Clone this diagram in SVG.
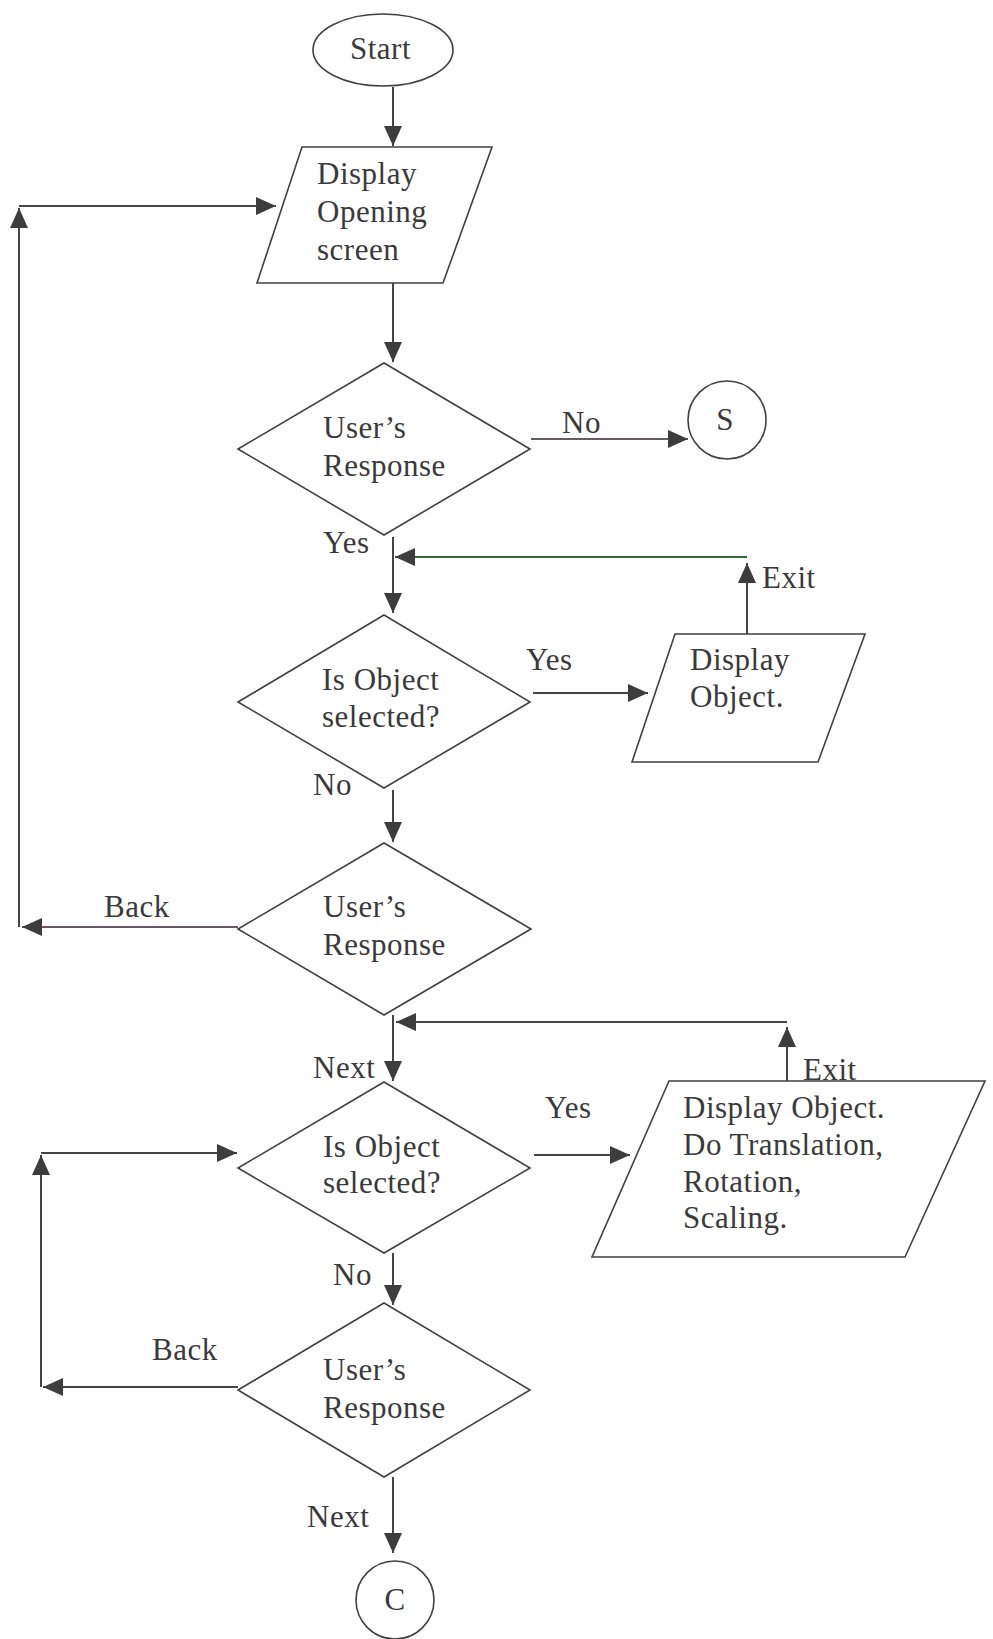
<svg xmlns="http://www.w3.org/2000/svg" width="993" height="1639" viewBox="0 0 993 1639">
<style>
.bg{fill:#ffffff}
.shape{fill:#ffffff;stroke:#404040;stroke-width:1.6}
.ln{fill:none;stroke:#454545;stroke-width:2}
.grn{stroke:#2f6b35}
.mv{stroke:#6a5868}
text{font-family:"Liberation Serif","Times New Roman",serif;font-size:31px;fill:#3a3a3a;letter-spacing:0.5px}
.mid{text-anchor:middle}
</style>
<defs>
<marker id="ah" markerUnits="userSpaceOnUse" markerWidth="20" markerHeight="18" refX="20" refY="9" orient="auto">
<path d="M0,0 L20,9 L0,18 Z" fill="#3d3d3d"/>
</marker>
</defs>
<rect class="bg" x="0" y="0" width="993" height="1639"/>

<g id="connectors">
<line class="ln" x1="393" y1="87" x2="393" y2="146" marker-end="url(#ah)"/>
<line class="ln" x1="393" y1="283" x2="393" y2="362" marker-end="url(#ah)"/>
<line class="ln mv" x1="531" y1="439" x2="688" y2="439" marker-end="url(#ah)"/>
<line class="ln" x1="393" y1="537" x2="393" y2="613" marker-end="url(#ah)"/>
<line class="ln" x1="747" y1="634" x2="747" y2="563" marker-end="url(#ah)"/>
<line class="ln grn" x1="747" y1="557" x2="395" y2="557" marker-end="url(#ah)"/>
<line class="ln" x1="533" y1="693" x2="648" y2="693" marker-end="url(#ah)"/>
<line class="ln" x1="393" y1="790" x2="393" y2="842" marker-end="url(#ah)"/>
<line class="ln mv" x1="238" y1="927" x2="22" y2="927" marker-end="url(#ah)"/>
<line class="ln" x1="19" y1="927" x2="19" y2="208" marker-end="url(#ah)"/>
<line class="ln" x1="19" y1="206" x2="276" y2="206" marker-end="url(#ah)"/>
<line class="ln" x1="393" y1="1015" x2="393" y2="1081" marker-end="url(#ah)"/>
<line class="ln" x1="787" y1="1081" x2="787" y2="1027" marker-end="url(#ah)"/>
<line class="ln" x1="787" y1="1022" x2="396" y2="1022" marker-end="url(#ah)"/>
<line class="ln" x1="534" y1="1155" x2="630" y2="1155" marker-end="url(#ah)"/>
<line class="ln" x1="393" y1="1253" x2="393" y2="1305" marker-end="url(#ah)"/>
<line class="ln" x1="238" y1="1387" x2="43" y2="1387" marker-end="url(#ah)"/>
<line class="ln" x1="41" y1="1387" x2="41" y2="1155" marker-end="url(#ah)"/>
<line class="ln" x1="41" y1="1153" x2="237" y2="1153" marker-end="url(#ah)"/>
<line class="ln" x1="393" y1="1477" x2="393" y2="1553" marker-end="url(#ah)"/>
<text x="562" y="433">No</text>
<text x="323" y="553">Yes</text>
<text x="762" y="588">Exit</text>
<text x="526" y="670">Yes</text>
<text x="313" y="795">No</text>
<text x="104" y="917">Back</text>
<text x="313" y="1078">Next</text>
<text x="803" y="1080">Exit</text>
<text x="545" y="1118">Yes</text>
<text x="333" y="1285">No</text>
<text x="152" y="1360">Back</text>
<text x="307" y="1527">Next</text>
</g>

<g id="start">
<ellipse class="shape" cx="383" cy="50" rx="70" ry="36"/>
<text x="350" y="59">Start</text>
</g>

<g id="display-opening">
<polygon class="shape" points="302,147 492,147 443,283 257,283"/>
<text x="317" y="184">Display</text>
<text x="317" y="222">Opening</text>
<text x="317" y="260">screen</text>
</g>

<g id="response-1">
<polygon class="shape" points="384,363 530,449 384,535 238,449"/>
<text x="323" y="438">User’s</text>
<text x="323" y="476">Response</text>
</g>

<g id="connector-s">
<circle class="shape" cx="727" cy="420" r="39"/>
<text class="mid" x="725" y="430">S</text>
</g>

<g id="object-selected-1">
<polygon class="shape" points="384,615 530,702 384,788 238,702"/>
<text x="322" y="690">Is Object</text>
<text x="322" y="727">selected?</text>
</g>

<g id="display-object">
<polygon class="shape" points="675,634 865,634 818,762 632,762"/>
<text x="690" y="670">Display</text>
<text x="690" y="707">Object.</text>
</g>

<g id="response-2">
<polygon class="shape" points="384,843 531,929 384,1015 238,929"/>
<text x="323" y="917">User’s</text>
<text x="323" y="955">Response</text>
</g>

<g id="object-selected-2">
<polygon class="shape" points="384,1082 530,1168 384,1253 238,1168"/>
<text x="323" y="1157">Is Object</text>
<text x="323" y="1193">selected?</text>
</g>

<g id="display-transform">
<polygon class="shape" points="669,1081 985,1081 905,1257 592,1257"/>
<text x="683" y="1118">Display Object.</text>
<text x="683" y="1155">Do Translation,</text>
<text x="683" y="1192">Rotation,</text>
<text x="683" y="1228">Scaling.</text>
</g>

<g id="response-3">
<polygon class="shape" points="384,1303 530,1390 384,1477 238,1390"/>
<text x="323" y="1380">User’s</text>
<text x="323" y="1418">Response</text>
</g>

<g id="connector-c">
<circle class="shape" cx="395" cy="1600" r="39"/>
<text class="mid" x="395" y="1610">C</text>
</g>
</svg>
